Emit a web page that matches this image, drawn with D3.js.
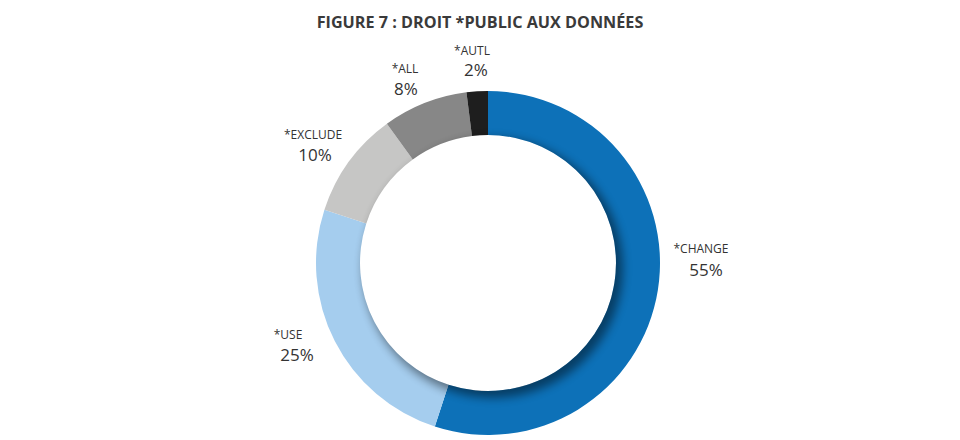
<!DOCTYPE html>
<html>
<head>
<meta charset="utf-8">
<script src="https://cdn.jsdelivr.net/npm/d3@7"></script>
<style>
  html, body { margin: 0; padding: 0; background: #fff; }
  svg { display: block; font-family: "Open Sans", "Noto Sans", sans-serif; }
</style>
</head>
<body>
<svg id="chart" width="960" height="440"></svg>
<script>
const title = "FIGURE 7 : DROIT *PUBLIC AUX DONNÉES";
const categories = ["*CHANGE", "*USE", "*EXCLUDE", "*ALL", "*AUTL"];
const values = [55, 25, 10, 8, 2];
const colors = ["#0d71b8", "#a5cdee", "#c6c6c5", "#878787", "#1e1e1e"];
// label anchor positions (name line, value line)
const labelPos = [
  {nx: 701, ny: 253, vx: 706, vy: 276},
  {nx: 288, ny: 339, vx: 297, vy: 361},
  {nx: 313, ny: 139, vx: 315, vy: 161},
  {nx: 405, ny: 73,  vx: 406, vy: 95},
  {nx: 472, ny: 55,  vx: 476, vy: 76}
];

const svg = d3.select("#chart");
const cx = 488, cy = 263, rOuter = 172, rInner = 128;

svg.append("text")
  .attr("x", 480).attr("y", 28)
  .attr("text-anchor", "middle")
  .attr("font-size", 16.2).attr("font-weight", 700)
  .attr("fill", "#3a3a3a")
  .text(title);

const data = categories.map((c, i) => ({name: c, value: values[i], color: colors[i]}));
const pie = d3.pie().value(d => d.value).sort(null);
const arc = d3.arc().innerRadius(rInner).outerRadius(rOuter);
const arcs = pie(data);

const defs = svg.append("defs");
defs.append("filter").attr("id", "blur")
  .attr("x", "-20%").attr("y", "-20%").attr("width", "140%").attr("height", "140%")
  .append("feGaussianBlur").attr("stdDeviation", 5);
defs.append("clipPath").attr("id", "ringClip")
  .append("path")
  .attr("transform", `translate(${cx},${cy})`)
  .attr("d", d3.arc().innerRadius(rInner).outerRadius(rOuter).startAngle(0).endAngle(2 * Math.PI)());

const g = svg.append("g").attr("transform", `translate(${cx},${cy})`);
g.selectAll("path.slice").data(arcs).join("path")
  .attr("class", "slice")
  .attr("d", arc)
  .attr("fill", d => d.data.color);

// inner shadow cast by the hole
svg.append("g").attr("clip-path", "url(#ringClip)")
  .append("g").attr("transform", `translate(${cx},${cy})`)
  .append("path")
  .attr("d", d3.arc().innerRadius(rInner - 30).outerRadius(rInner + 2).startAngle(0).endAngle(2 * Math.PI)())
  .attr("transform", "translate(5,5)")
  .attr("fill", "#000").attr("opacity", 0.45)
  .attr("filter", "url(#blur)");

const labels = svg.append("g").attr("fill", "#333");
labels.selectAll("text.name").data(data).join("text")
  .attr("class", "name")
  .attr("x", (d, i) => labelPos[i].nx).attr("y", (d, i) => labelPos[i].ny)
  .attr("text-anchor", "middle").attr("font-size", 12)
  .text(d => d.name);
labels.selectAll("text.val").data(data).join("text")
  .attr("class", "val")
  .attr("x", (d, i) => labelPos[i].vx).attr("y", (d, i) => labelPos[i].vy)
  .attr("text-anchor", "middle").attr("font-size", 17)
  .text(d => d.value + "%");
</script>
</body>
</html>
